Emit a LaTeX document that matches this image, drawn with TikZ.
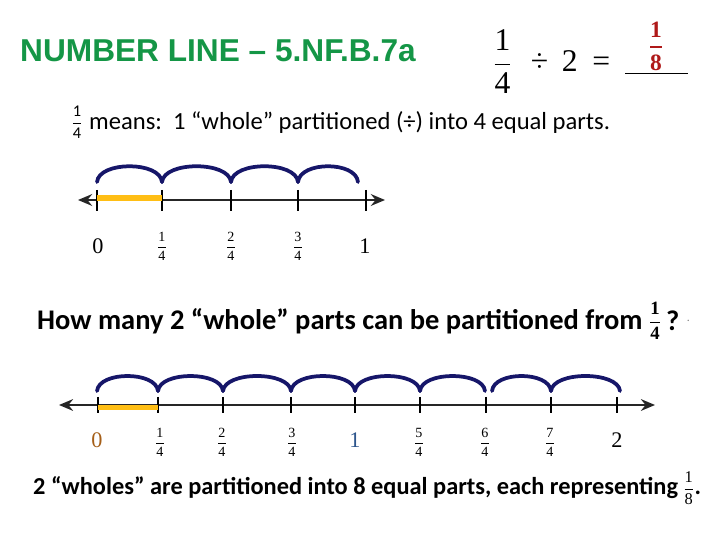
\RequirePackage{fix-cm}
\documentclass[tikz,border=0pt]{standalone}
\usepackage{amsmath}
\usepackage{fontspec}
\setmainfont{Carlito}
\newfontfamily\titlefont{Liberation Sans}
\newfontfamily\digitfont{Liberation Serif}
\usetikzlibrary{arrows.meta, positioning}

\definecolor{titlegreen}{RGB}{20, 150, 70}
\definecolor{hopnavy}{RGB}{22, 22, 105}
\definecolor{partgold}{RGB}{255, 190, 20}
\definecolor{ansred}{RGB}{175, 25, 25}
\definecolor{zerobrown}{RGB}{165, 95, 25}
\definecolor{oneblue}{RGB}{45, 85, 140}

% stacked fraction set in the current text font
\newcommand{\numfrac}[2]{$\dfrac{\text{#1}}{\text{#2}}$}

\tikzset{
  hop/.style={draw=hopnavy, line width=3.2pt, line cap=round},
  tickmark/.style={draw=black, line width=1.5pt},
  numline/.style={draw=black!85, line width=2.4pt, {Stealth[length=12pt, width=10pt]}-{Stealth[length=12pt, width=10pt]}},
  fraclbl/.style={font=\digitfont\fontsize{12}{14}\selectfont, inner sep=0pt},
  wholelbl/.style={font=\digitfont\fontsize{19}{22}\selectfont, inner sep=0pt},
  bodytext/.style={anchor=west, inner sep=0pt},
}

\begin{document}
\begin{tikzpicture}[x=0.03cm, y=-0.03cm]
  \useasboundingbox (0,0) rectangle (720,540);

  % Title and equation
  \node[anchor=west, inner sep=0pt, text=titlegreen, font=\titlefont\bfseries\fontsize{27}{30}\selectfont] (title) at (20,51) {NUMBER LINE – 5.NF.B.7a};
  \node[anchor=base west, inner sep=0pt, font=\digitfont\fontsize{27}{30}\selectfont] (eq) at (493,72) {\numfrac{1}{4}\hspace{0.6em}÷\hspace{0.43em}2\hspace{0.47em}=};
  \coordinate (blankL) at (625,73);
  \coordinate (blankR) at (688,73);
  \draw[line width=0.8pt] (blankL) -- (blankR);
  \node[anchor=base, inner sep=0pt, text=ansred, font=\digitfont\bfseries\fontsize{20}{24}\selectfont] (ans) at (656,53) {$\genfrac{}{}{2pt}{0}{\text{1}}{\text{8}}$};

  % What 1/4 means
  \node[inner sep=0pt, font=\fontsize{14}{16}\selectfont] (quarter) at (77,122) {\numfrac{1}{4}};
  \node[bodytext, font=\fontsize{21}{25}\selectfont] (means) at (89,122) {means:\ \ 1 “whole” partitioned (÷) into 4 equal parts.};

  % Top number line: 0 to 1 in fourths
  \coordinate (topL) at (78,200);
  \coordinate (topR) at (385,200);
  \draw[numline] (topL) -- (topR);
  \foreach \x [count=\i from 0] in {97,162,231,298,366} {
    \coordinate (t\i) at (\x,200);
    \draw[tickmark] (\x,190) -- (\x,211);
  }
  \draw[partgold, line width=5pt] ([yshift=1.5pt]t0) -- ([yshift=1.5pt]t1);
  \foreach \x [count=\i from 0] in {97,162,231,298,358}
    \coordinate (h\i) at (\x,182);
  \foreach \a/\b in {h0/h1, h1/h2, h2/h3, h3/h4}
    \draw[hop] (\a) .. controls +(2,-21) and +(-2,-21) .. (\b);
  \node[wholelbl] (zero) at (98,246) {0};
  \node[fraclbl] (q1) at (162,246) {\numfrac{1}{4}};
  \node[fraclbl] (q2) at (231,246) {\numfrac{2}{4}};
  \node[fraclbl] (q3) at (298,246) {\numfrac{3}{4}};
  \node[wholelbl] (one) at (365,246) {1};

  % Question
  \node[bodytext, font=\bfseries\fontsize{24.3}{28}\selectfont] (ask) at (37,321) {How many 2 “whole” parts can be partitioned from};
  \node[inner sep=0pt, font=\digitfont\bfseries\fontsize{16}{18}\selectfont, right=5pt of ask] (askfrac) {\numfrac{1}{4}};
  \node[inner sep=0pt, font=\bfseries\fontsize{24.3}{28}\selectfont, right=4pt of askfrac] (qmark) {?};
  \node[inner sep=0pt, text=black!50, font=\fontsize{10}{12}\selectfont, right=6pt of qmark] (dot) {.};

  % Bottom number line: 0 to 2 in fourths
  \coordinate (botL) at (59,405);
  \coordinate (botR) at (655,405);
  \draw[numline, line width=1.8pt] (botL) -- (botR);
  \foreach \x [count=\i from 0] in {98,158,223,291,355,420,486,551,617} {
    \coordinate (b\i) at (\x,405);
    \draw[tickmark, line width=2.4pt] (\x,397) -- (\x,413);
  }
  \draw[partgold, line width=4.5pt] ([yshift=-2pt]b0) -- ([yshift=-2pt]b1);
  \foreach \x [count=\i from 0] in {97,158,223,291,355,420,485,492,551,620}
    \coordinate (k\i) at (\x,391);
  \foreach \a/\b in {k0/k1, k1/k2, k2/k3, k3/k4, k4/k5, k5/k6, k7/k8, k8/k9}
    \draw[hop] (\a) .. controls +(2,-20) and +(-2,-20) .. (\b);
  \node[wholelbl, text=zerobrown] (bzero) at (97,440) {0};
  \node[fraclbl] (r1) at (160,442) {\numfrac{1}{4}};
  \node[fraclbl] (r2) at (222,442) {\numfrac{2}{4}};
  \node[fraclbl] (r3) at (292,442) {\numfrac{3}{4}};
  \node[wholelbl, text=oneblue] (bone) at (355,440) {1};
  \node[fraclbl] (r5) at (419,442) {\numfrac{5}{4}};
  \node[fraclbl] (r6) at (485,442) {\numfrac{6}{4}};
  \node[fraclbl] (r7) at (550,442) {\numfrac{7}{4}};
  \node[wholelbl] (btwo) at (617,440) {2};

  % Answer sentence
  \node[bodytext, font=\bfseries\fontsize{20.8}{25}\selectfont] (tell) at (33,488) {2 “wholes” are partitioned into 8 equal parts, each representing};
  \node[inner sep=0pt, font=\digitfont\fontsize{14}{16}\selectfont, right=4pt of tell] (tellfrac) {\numfrac{1}{8}};
  \node[inner sep=0pt, font=\bfseries\fontsize{20.8}{25}\selectfont, anchor=base west] (stop) at (tellfrac.east |- tell.base) {.};
\end{tikzpicture}
\end{document}
